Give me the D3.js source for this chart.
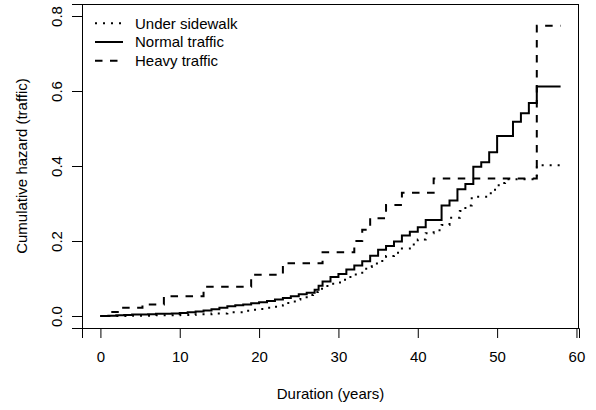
<!DOCTYPE html>
<html>
<head>
<meta charset="utf-8">
<script src="https://cdn.jsdelivr.net/npm/d3@7/dist/d3.min.js"></script>
<style>
  body { margin: 0; background: #fff; }
  svg { display: block; font-family: "Liberation Sans", Arial, Helvetica, sans-serif; }
</style>
</head>
<body>
<svg width="596" height="410"></svg>
<script>
// cumulative hazard step functions
var sidewalkTime = [0, 4, 7, 10, 12, 14, 16, 18, 19, 20, 21, 22, 23, 23.5, 24.5, 25.2, 26, 26.8, 27.4, 28.2, 29.2, 30.2, 31, 32, 33, 33.5, 34.2, 35, 36, 37, 38, 39, 40, 41, 42, 43, 44, 45.3, 46, 46.8, 49.2, 50.2, 51, 55];
var sidewalkHaz  = [0, 0.001, 0.002, 0.003, 0.005, 0.007, 0.010, 0.014, 0.017, 0.019, 0.022, 0.025, 0.029, 0.035, 0.044, 0.050, 0.056, 0.064, 0.073, 0.080, 0.086, 0.097, 0.104, 0.111, 0.121, 0.131, 0.140, 0.147, 0.160, 0.169, 0.180, 0.191, 0.204, 0.221, 0.229, 0.243, 0.262, 0.280, 0.295, 0.318, 0.337, 0.355, 0.365, 0.402];

var normalTime = [0, 1, 2, 3, 4, 6, 7, 9, 10, 11, 12, 13, 14, 15, 16, 17, 18, 19, 20, 21, 22, 23, 24, 25, 26, 27, 27.5, 28, 29, 30, 31, 32, 33, 34, 35, 36, 37, 38, 39, 40, 41, 43, 44, 45, 46, 47, 48, 49, 50, 52, 53, 54, 55];
var normalHaz  = [0, 0.001, 0.002, 0.003, 0.004, 0.005, 0.006, 0.007, 0.008, 0.010, 0.012, 0.015, 0.018, 0.022, 0.026, 0.029, 0.031, 0.034, 0.037, 0.040, 0.044, 0.048, 0.053, 0.058, 0.062, 0.070, 0.081, 0.092, 0.104, 0.112, 0.124, 0.135, 0.146, 0.161, 0.177, 0.187, 0.199, 0.215, 0.225, 0.237, 0.256, 0.295, 0.308, 0.338, 0.352, 0.398, 0.410, 0.437, 0.480, 0.518, 0.541, 0.568, 0.612];

var heavyTime = [0, 1.3, 2.7, 5.3, 8, 13, 19, 23, 28, 32, 33, 34, 36, 38, 42, 55];
var heavyHaz  = [0, 0.011, 0.022, 0.031, 0.053, 0.078, 0.110, 0.141, 0.170, 0.200, 0.230, 0.261, 0.296, 0.329, 0.367, 0.774];

var endTime = 58;

var xTicks = [0, 10, 20, 30, 40, 50, 60];
var yTicks = [0, 0.2, 0.4, 0.6, 0.8];
var legendLabels = ["Under sidewalk", "Normal traffic", "Heavy traffic"];

var svg = d3.select("svg");
var margin = {top: 4, right: 17, bottom: 82, left: 82};
var width = +svg.attr("width") - margin.left - margin.right;
var height = +svg.attr("height") - margin.top - margin.bottom;

// R style 4% padding on both axes
var xLim = [0, endTime], yLim = [0, 0.8];
var xPad = (xLim[1] - xLim[0]) * 0.04, yPad = (yLim[1] - yLim[0]) * 0.04;

var x = d3.scaleLinear().domain([xLim[0] - xPad, xLim[1] + xPad]).range([0, width]);
var y = d3.scaleLinear().domain([yLim[0] - yPad, yLim[1] + yPad]).range([height, 0]);

var g = svg.append("g")
    .attr("transform", "translate(" + margin.left + "," + margin.top + ")");

var line = d3.line()
    .x(function(d) { return x(d.t); })
    .y(function(d) { return y(d.h); })
    .curve(d3.curveStepAfter);

function steps(times, haz) {
    var pts = times.map(function(t, i) { return {t: t, h: haz[i]}; });
    pts.push({t: endTime, h: haz[haz.length - 1]});
    return pts;
}

var series = [
    {name: legendLabels[0], data: steps(sidewalkTime, sidewalkHaz), dash: "2,6"},
    {name: legendLabels[1], data: steps(normalTime, normalHaz), dash: null},
    {name: legendLabels[2], data: steps(heavyTime, heavyHaz), dash: "7.5,7.5"}
];

var fs = 15;

// axes
var xAxis = g.append("g")
    .attr("transform", "translate(0," + height + ")")
    .call(d3.axisBottom(x).tickValues(xTicks).tickSizeOuter(0).tickSize(10).tickPadding(13.5).tickFormat(d3.format("d")));

var yAxis = g.append("g")
    .call(d3.axisLeft(y).tickValues(yTicks).tickSizeOuter(0).tickSize(10).tickFormat(d3.format(".1f")));

[xAxis, yAxis].forEach(function(a) {
    a.select(".domain").attr("stroke", "#000");
    a.selectAll(".tick line").attr("stroke", "#000");
    a.selectAll("text").attr("fill", "#000").style("font-size", fs + "px").attr("font-family", null);
    a.attr("font-family", null).attr("font-size", null);
});

yAxis.selectAll(".tick text")
    .attr("x", null)
    .attr("dy", "0.36em")
    .attr("text-anchor", "middle")
    .attr("transform", "translate(-25,0) rotate(-90)");

// plot box
g.append("rect")
    .attr("x", 0.5)
    .attr("y", 0.5)
    .attr("width", width - 1)
    .attr("height", height)
    .attr("fill", "none")
    .attr("stroke", "#000");

// curves
g.selectAll("path.curve")
    .data(series)
    .enter().append("path")
    .attr("class", "curve")
    .attr("d", function(d) { return line(d.data); })
    .attr("fill", "none")
    .attr("stroke", "#000")
    .attr("stroke-width", 2)
    .attr("stroke-dasharray", function(d) { return d.dash; });

// axis titles
svg.append("text")
    .attr("x", margin.left + width / 2)
    .attr("y", 394)
    .attr("dy", "0.36em")
    .attr("text-anchor", "middle")
    .style("font-size", fs + "px")
    .text("Duration (years)");

svg.append("text")
    .attr("transform", "translate(22," + (margin.top + height / 2) + ") rotate(-90)")
    .attr("dy", "0.36em")
    .attr("text-anchor", "middle")
    .style("font-size", fs + "px")
    .text("Cumulative hazard (traffic)");

// legend, no frame
var legend = svg.append("g")
    .attr("transform", "translate(95,23.3)");

var item = legend.selectAll("g")
    .data(series)
    .enter().append("g")
    .attr("transform", function(d, i) { return "translate(0," + (i * 18.7) + ")"; });

item.append("line")
    .attr("x1", 0)
    .attr("x2", 28)
    .attr("stroke", "#000")
    .attr("stroke-width", 2)
    .attr("stroke-dasharray", function(d) { return d.dash; });

item.append("text")
    .attr("x", 40)
    .attr("dy", "0.36em")
    .style("font-size", fs + "px")
    .text(function(d) { return d.name; });
</script>
</body>
</html>
